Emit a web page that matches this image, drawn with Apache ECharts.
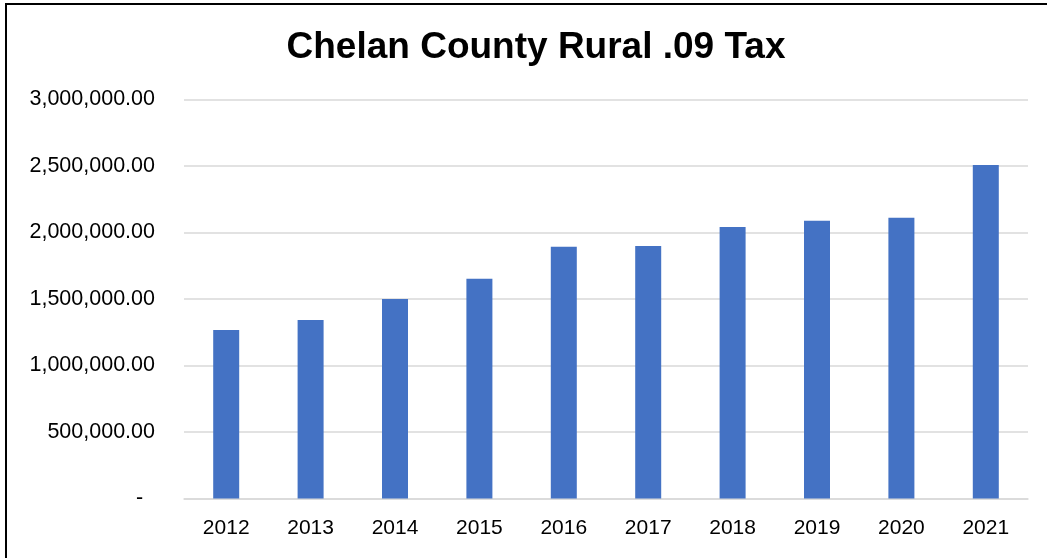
<!DOCTYPE html>
<html>
<head>
<meta charset="utf-8">
<script src="https://cdn.jsdelivr.net/npm/echarts@6/dist/echarts.min.js"></script>
<style>
html,body{margin:0;padding:0;background:#fff;}
#chart{width:1047px;height:558px;}
</style>
</head>
<body>
<div id="chart"></div>
<script>
const title = 'Chelan County Rural .09 Tax';
const years = ['2012','2013','2014','2015','2016','2017','2018','2019','2020','2021'];
const taxValues = [1267000, 1342000, 1500000, 1653000, 1893000, 1898000, 2041000, 2089000, 2111000, 2508000];
const yMin = 0, yMax = 3000000, yStep = 500000;

const chart = echarts.init(document.getElementById('chart'), null, {renderer: 'canvas'});
const fmt = v => {
  if (v === 0) return '-  ';
  return v.toLocaleString('en-US', {minimumFractionDigits: 2, maximumFractionDigits: 2});
};
chart.setOption({
  backgroundColor: '#ffffff',
  animation: false,
  title: {
    text: title,
    left: 531,
    textAlign: 'center',
    top: 24,
    textStyle: {fontFamily: 'Liberation Sans, Arial, sans-serif', fontWeight: 'bold', fontSize: 37, color: '#000'}
  },
  graphic: [
    {type: 'line', shape: {x1: 5, y1: 4, x2: 1047, y2: 4}, style: {stroke: '#000', lineWidth: 2}},
    {type: 'line', shape: {x1: 6, y1: 3, x2: 6, y2: 558}, style: {stroke: '#000', lineWidth: 2}}
  ],
  grid: {left: 184, right: 19, top: 99.5, bottom: 59.5, containLabel: false},
  xAxis: {
    type: 'category',
    data: years,
    axisLine: {show: true, lineStyle: {color: '#d9d9d9', width: 1.5}},
    axisTick: {show: false},
    axisLabel: {margin: 19, color: '#000', fontSize: 21, fontFamily: 'Liberation Sans, Arial, sans-serif'}
  },
  yAxis: {
    type: 'value',
    min: yMin, max: yMax, interval: yStep,
    axisLine: {show: false},
    axisTick: {show: false},
    splitLine: {lineStyle: {color: '#d9d9d9', width: 1.5}},
    axisLabel: {margin: 29, color: '#000', fontSize: 21.5, fontFamily: 'Liberation Sans, Arial, sans-serif', formatter: fmt}
  },
  series: [{
    type: 'bar',
    data: taxValues,
    barWidth: 26,
    itemStyle: {color: '#4472C4'}
  }]
});
</script>
</body>
</html>
